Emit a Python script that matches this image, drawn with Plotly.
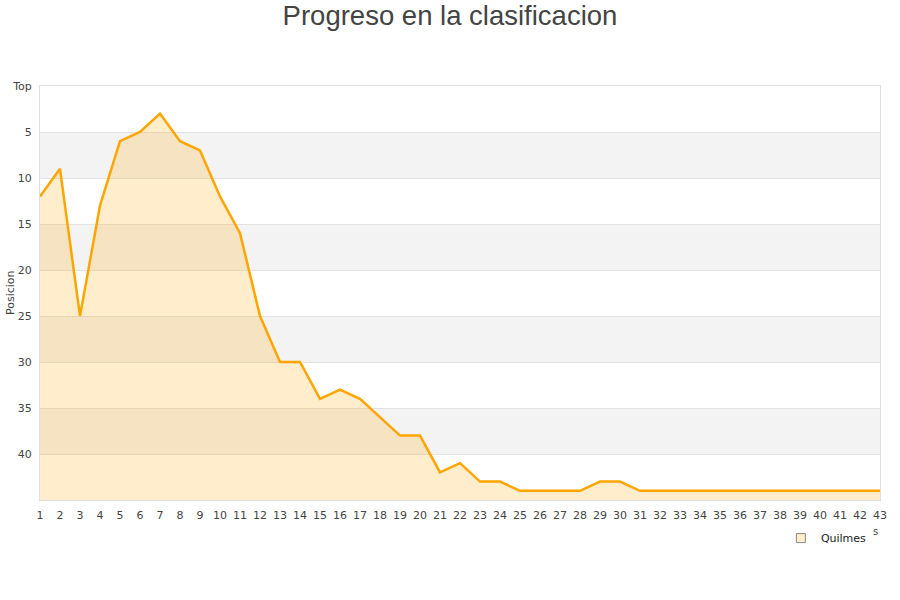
import plotly.graph_objects as go

jornadas = list(range(1, 44))
posicion = [12, 9, 25, 13, 6, 5, 3, 6, 7, 12, 16, 25, 30, 30, 34, 33, 34, 36, 38, 38,
            42, 41, 43, 43, 44, 44, 44, 44, 43, 43, 44, 44, 44, 44, 44, 44, 44, 44,
            44, 44, 44, 44, 44]
equipo = "Quilmes"
fondo = [45] * len(jornadas)

y_ticks = [0, 5, 10, 15, 20, 25, 30, 35, 40]
y_labels = ["Top", "5", "10", "15", "20", "25", "30", "35", "40"]

fig = go.Figure()

# base line at the bottom of the axis so the area fills downwards
fig.add_trace(go.Scatter(x=jornadas, y=fondo, mode="lines", line=dict(width=0),
                         hoverinfo="skip", showlegend=False))
fig.add_trace(go.Scatter(x=jornadas, y=posicion, mode="lines", fill="tonexty",
                         fillcolor="rgba(255,165,0,0.2)",
                         line=dict(color="#ffa500", width=2.5),
                         name=equipo, showlegend=False))
fig.add_trace(go.Scatter(x=[None], y=[None], mode="markers", name=equipo,
                         marker=dict(symbol="square", size=9, color="#ffedcc",
                                     line=dict(color="#888", width=1))))

# alternating grey bands
shapes = []
for lo in range(5, 45, 10):
    shapes.append(dict(type="rect", xref="paper", yref="y", x0=0, x1=1, y0=lo, y1=lo + 5,
                       fillcolor="#f3f3f3", line=dict(width=0), layer="below"))

fig.update_layout(
    width=900, height=600,
    paper_bgcolor="white", plot_bgcolor="white",
    margin=dict(l=40, r=20, t=86, b=100, autoexpand=False),
    title=dict(text="Progreso en la clasificacion", x=0.5, xanchor="center",
               y=0.975, yanchor="middle",
               font=dict(family="Liberation Sans, Arial", size=27.5, color="#444")),
    shapes=shapes,
    font=dict(family="DejaVu Sans", size=11, color="#444"),
    xaxis=dict(range=[1, 43], tickmode="linear", dtick=1, showgrid=False,
               showline=True, linecolor="#ddd", mirror=True, ticks="",
               ticklabelstandoff=5,
               automargin=False, tickfont=dict(size=11, color="#444"), zeroline=False),
    yaxis=dict(range=[45, 0], tickvals=y_ticks, ticktext=y_labels,
               showgrid=True, gridcolor="#e2e2e2", showline=True, linecolor="#ddd",
               mirror=True, zeroline=False, ticks="", automargin=False,
               ticklabelstandoff=5,
               tickfont=dict(size=11, color="#444")),
    legend=dict(x=0.882, y=-0.092, xanchor="left", yanchor="middle",
                font=dict(size=11, color="#222"), bgcolor="rgba(0,0,0,0)"),
    annotations=[
        dict(text="Posicion", xref="paper", yref="paper", x=-0.0357, y=0.5,
             xanchor="center", yanchor="middle", textangle=-90, showarrow=False,
             font=dict(size=11, color="#444")),
        dict(text="s", xref="paper", yref="paper", x=0.995, y=-0.077,
             xanchor="center", yanchor="middle", showarrow=False,
             font=dict(size=10, color="#444")),
    ],
)

# drop the default body margin of the page so the figure sits at the top-left corner
fig.write_html("out.html", config={"displayModeBar": False},
               post_script="document.body.style.margin='0px';")
